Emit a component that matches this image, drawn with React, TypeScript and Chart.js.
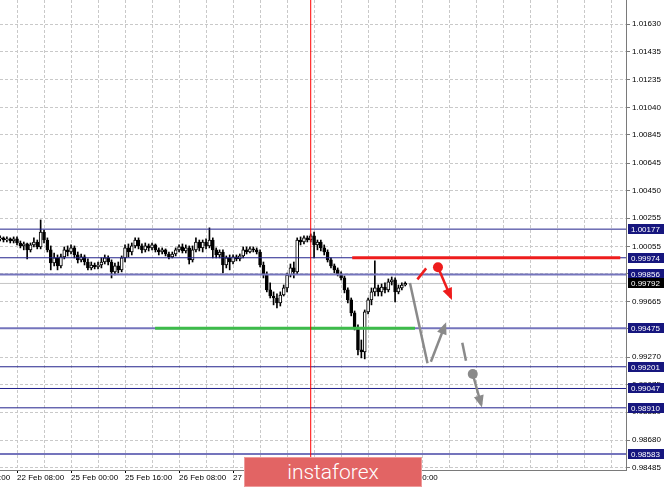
import React, { useEffect, useRef } from 'react';
import { Chart, registerables } from 'chart.js';

Chart.register(...registerables);

// Bar index = hours counted from 22 Feb 08:00 (weekend hours skipped), H1 candles
const FIRST_BAR = -5;
const FIRST_OPEN = 1.00108;

const closes = [
  1.00115, 1.00100, 1.00108, 1.00093, 1.00108,
  1.00079, 1.00058, 1.00072, 1.00030, 1.00065, 1.00086, 1.00051, 1.00157, 1.00100, 1.00030,
  0.99937, 0.99973, 0.99916, 0.99980, 1.00030, 1.00015, 1.00044, 0.99994, 0.99959, 0.99980,
  0.99944, 0.99902, 0.99923, 0.99909, 0.99923, 0.99944, 0.99973, 0.99944, 0.99874, 0.99916,
  0.99888, 0.99973, 1.00044, 1.00015, 1.00058, 1.00100, 1.00058, 1.00030, 1.00058, 1.00044,
  1.00065, 1.00030, 1.00015, 1.00030, 1.00001, 0.99980, 1.00001, 1.00030, 1.00051, 1.00022,
  1.00044, 0.99959, 1.00030, 1.00086, 1.00044, 1.00086, 1.00058, 1.00100, 1.00030, 0.99994,
  1.00015, 0.99923, 0.99973, 0.99944, 0.99980, 0.99966, 0.99987, 1.00030, 1.00015, 1.00037,
  1.00030, 1.00015, 0.99923, 0.99852, 0.99746, 0.99703, 0.99689, 0.99654, 0.99710, 0.99760,
  0.99852, 0.99902, 0.99874, 1.00100, 1.00086, 1.00115, 1.00100, 1.00129, 1.00065, 1.00086,
  1.00044, 1.00015, 0.99959, 0.99916, 0.99888, 0.99859, 0.99831, 0.99746, 0.99675, 0.99583,
  0.99477, 0.99321, 0.99307, 0.99590, 0.99675, 0.99732, 0.99760, 0.99732, 0.99767, 0.99746,
  0.99803, 0.99817, 0.99732, 0.99760, 0.99781, 0.99792,
];

const highs = [
  1.00129, 1.00122, 1.00122, 1.00115, 1.00122,
  1.00122, 1.00093, 1.00086, 1.00079, 1.00079, 1.00115, 1.00100, 1.00242, 1.00171, 1.00115,
  1.00058, 1.00008, 0.99994, 1.00001, 1.00051, 1.00058, 1.00065, 1.00058, 1.00015, 1.00001,
  0.99994, 0.99966, 0.99944, 0.99937, 0.99944, 0.99973, 0.99994, 0.99987, 0.99959, 0.99937,
  0.99944, 0.99987, 1.00065, 1.00072, 1.00079, 1.00115, 1.00115, 1.00072, 1.00079, 1.00072,
  1.00079, 1.00072, 1.00044, 1.00044, 1.00037, 1.00015, 1.00015, 1.00044, 1.00065, 1.00072,
  1.00065, 1.00058, 1.00058, 1.00115, 1.00100, 1.00100, 1.00108, 1.00186, 1.00115, 1.00044,
  1.00030, 1.00030, 0.99987, 0.99994, 0.99994, 0.99994, 1.00001, 1.00051, 1.00051, 1.00051,
  1.00051, 1.00044, 1.00030, 0.99944, 0.99874, 0.99796, 0.99732, 0.99718, 0.99732, 0.99781,
  0.99866, 0.99930, 0.99944, 1.00115, 1.00122, 1.00129, 1.00129, 1.00143, 1.00157, 1.00100,
  1.00100, 1.00065, 1.00030, 0.99973, 0.99930, 0.99902, 0.99874, 0.99845, 0.99760, 0.99689,
  0.99597, 0.99498, 0.99391, 0.99604, 0.99689, 0.99760, 0.99952, 0.99781, 0.99788, 0.99796,
  0.99824, 0.99838, 0.99831, 0.99781, 0.99796, 0.99803,
];

const lows = [
  1.00093, 1.00086, 1.00086, 1.00079, 1.00079,
  1.00065, 1.00044, 1.00030, 0.99966, 1.00015, 1.00051, 1.00037, 1.00037, 1.00079, 1.00015,
  0.99888, 0.99916, 0.99888, 0.99902, 0.99966, 0.99987, 1.00001, 0.99973, 0.99937, 0.99944,
  0.99923, 0.99888, 0.99888, 0.99895, 0.99895, 0.99902, 0.99930, 0.99923, 0.99831, 0.99852,
  0.99866, 0.99874, 0.99944, 0.99980, 0.99994, 1.00044, 1.00037, 1.00008, 1.00015, 1.00022,
  1.00030, 1.00015, 0.99994, 1.00001, 0.99987, 0.99966, 0.99973, 0.99987, 1.00015, 1.00008,
  1.00008, 0.99930, 0.99944, 1.00015, 1.00022, 1.00015, 1.00037, 1.00044, 0.99973, 0.99973,
  0.99973, 0.99866, 0.99902, 0.99888, 0.99930, 0.99952, 0.99952, 0.99973, 1.00001, 1.00008,
  1.00015, 1.00001, 0.99909, 0.99831, 0.99732, 0.99689, 0.99640, 0.99618, 0.99632, 0.99703,
  0.99732, 0.99838, 0.99831, 0.99859, 1.00065, 1.00072, 1.00086, 1.00086, 0.99973, 1.00030,
  1.00022, 0.99994, 0.99944, 0.99902, 0.99866, 0.99845, 0.99817, 0.99725, 0.99654, 0.99562,
  0.99462, 0.99285, 0.99264, 0.99257, 0.99576, 0.99640, 0.99703, 0.99703, 0.99703, 0.99725,
  0.99732, 0.99781, 0.99661, 0.99718, 0.99746, 0.99774,
];

// Axes
const X_MIN = -5.04;
const X_MAX = 180.4;
const Y_MIN = 0.98469;
const Y_MAX = 1.01802;
const xGridStep = 8;
const xLabelPositions = [-16, 0, 16, 32, 48, 64, 80, 96, 112];
const xLabels = [
  '21 Feb 16:00', '22 Feb 08:00', '25 Feb 00:00', '25 Feb 16:00', '26 Feb 08:00',
  '27 Feb 00:00', '27 Feb 16:00', '28 Feb 08:00', '1 Mar 00:00',
];
const yTicks = [
  1.0163, 1.01435, 1.01235, 1.0104, 1.00845, 1.00645, 1.0045, 1.00255, 1.00055,
  0.9986, 0.99665, 0.9947, 0.9927, 0.99075, 0.9888, 0.9868, 0.98485,
];

// Horizontal levels
const navyLevels = [1.00177, 0.99974, 0.99201, 0.99047, 0.9891];
const softLevels = [0.99856, 0.99475, 0.98583];
const currentPrice = 0.99792;
const markerBar = 87;
const redSegment = { from: 99.3, to: 178.7, price: 0.99974 };
const greenSegment = { from: 40.9, to: 117.9, price: 0.99475 };

// Forecast drawings
const grayDrop = [{ x: 116.4, y: 0.99795 }, { x: 121.6, y: 0.99226 }];
const grayRise = [{ x: 122.6, y: 0.99237 }, { x: 126.8, y: 0.99497 }];
const redDash = [{ x: 118.6, y: 0.99821 }, { x: 121.2, y: 0.99899 }];
const redArrow = [{ x: 124.7, y: 0.99907 }, { x: 128.5, y: 0.99694 }];
const grayDash = [{ x: 131.9, y: 0.99372 }, { x: 133.0, y: 0.99244 }];
const grayArrow = [{ x: 135.0, y: 0.9915 }, { x: 137.5, y: 0.98933 }];

const FONT = '"Liberation Sans", Arial, sans-serif';
const GRAY = '#8a8a8a';
const RED = '#ee1c1c';

function buildCandles() {
  return closes.map((c, i) => {
    const o = i === 0 ? FIRST_OPEN : closes[i - 1];
    return { x: FIRST_BAR + i, o, c, h: highs[i], l: lows[i] };
  });
}

function labelFor(v: number) {
  const i = xLabelPositions.indexOf(v);
  return i >= 0 ? xLabels[i] : '';
}

const overlayPlugin = {
  id: 'overlay',
  afterDatasetsDraw(chart: any) {
    const ctx = chart.ctx;
    chart.data.datasets.forEach((ds: any, i: number) => {
      if (!ds.arrowHead) return;
      const pts = chart.getDatasetMeta(i).data;
      const a = pts[pts.length - 2];
      const b = pts[pts.length - 1];
      const ang = Math.atan2(b.y - a.y, b.x - a.x);
      const dx = Math.cos(ang), dy = Math.sin(ang);
      const tipX = b.x + dx * 3, tipY = b.y + dy * 3;
      const len = 12, half = 5;
      ctx.save();
      ctx.fillStyle = ds.borderColor;
      ctx.beginPath();
      ctx.moveTo(tipX, tipY);
      ctx.lineTo(tipX - dx * len - dy * half, tipY - dy * len + dx * half);
      ctx.lineTo(tipX - dx * len + dy * half, tipY - dy * len - dx * half);
      ctx.closePath();
      ctx.fill();
      ctx.restore();
    });
  },
  afterDraw(chart: any) {
    const ctx = chart.ctx;
    const ys = chart.scales.y;
    const xs = chart.scales.x;
    const area = chart.chartArea;
    ctx.save();
    // cut-off label left of the visible range
    ctx.font = '8px ' + FONT;
    ctx.fillStyle = '#000';
    ctx.textBaseline = 'top';
    ctx.textAlign = 'left';
    xLabelPositions.forEach((p, i) => {
      if (p < X_MIN) ctx.fillText(xLabels[i], xs.getPixelForValue(p), area.bottom + 4);
    });
    // level price boxes
    const box = (v: number, bg: string) => {
      const py = Math.round(ys.getPixelForValue(v));
      ctx.fillStyle = bg;
      ctx.fillRect(area.right + 2, py - 5, 36, 10);
      ctx.fillStyle = '#fff';
      ctx.textBaseline = 'middle';
      ctx.fillText(v.toFixed(5), area.right + 5, py + 0.5);
    };
    [...navyLevels, ...softLevels].forEach((v) => box(v, '#16167e'));
    box(currentPrice, '#000');
    ctx.restore();
  },
};

export default function App() {
  const ref = useRef<HTMLCanvasElement>(null);

  useEffect(() => {
    const candles = buildCandles();
    const bodyData = candles.map((b) => ({ x: b.x, y: [Math.min(b.o, b.c), Math.max(b.o, b.c)] }));
    const wickData = candles.map((b) => ({ x: b.x, y: [b.l, b.h] }));
    const bodyFill = candles.map((b) => (b.c >= b.o ? '#ffffff' : '#000000'));

    const hline = (price: number, from: number, to: number, color: string, width: number, order: number) => ({
      type: 'line',
      data: [{ x: from, y: price }, { x: to, y: price }],
      borderColor: color,
      borderWidth: width,
      pointRadius: 0,
      fill: false,
      order,
    });
    const path = (pts: any[], color: string, width: number, extra: any = {}) => ({
      type: 'line',
      data: pts,
      borderColor: color,
      borderWidth: width,
      pointRadius: 0,
      fill: false,
      order: 0,
      ...extra,
    });

    const datasets: any[] = [
      hline(currentPrice, -20, 200, '#c4c4c4', 1, 9),
      ...navyLevels.map((v) => hline(v, -20, 200, '#22228c', 1, 2)),
      ...softLevels.map((v) => hline(v, -20, 200, '#7474bc', 2, 2)),
      {
        type: 'line',
        data: [{ x: markerBar, y: Y_MIN - 0.01 }, { x: markerBar, y: Y_MAX + 0.01 }],
        borderColor: '#ff0000',
        borderWidth: 1,
        pointRadius: 0,
        order: 1,
      },
      hline(redSegment.price, redSegment.from, redSegment.to, RED, 3, 1),
      hline(greenSegment.price, greenSegment.from, greenSegment.to, '#3dbb4a', 3, 1),
      {
        type: 'bar',
        data: bodyData,
        backgroundColor: bodyFill,
        borderColor: '#000',
        borderWidth: 1,
        borderSkipped: false,
        barThickness: 3,
        grouped: false,
        order: 5,
      },
      {
        type: 'bar',
        data: wickData,
        backgroundColor: '#000',
        borderWidth: 0,
        barThickness: 1,
        grouped: false,
        order: 6,
      },
      path(grayDrop, GRAY, 2.5),
      path(grayRise, GRAY, 2.5, { arrowHead: true }),
      path(redDash, RED, 2.5),
      path(redArrow, RED, 2.5, { arrowHead: true, pointRadius: [5, 0], pointBackgroundColor: RED, pointBorderWidth: 0 }),
      path(grayDash, GRAY, 2.5),
      path(grayArrow, GRAY, 2.5, { arrowHead: true, pointRadius: [5, 0], pointBackgroundColor: GRAY, pointBorderWidth: 0 }),
    ];

    const gridPositions: number[] = [];
    for (let v = 0; v <= X_MAX; v += xGridStep) gridPositions.push(v);

    const chart = new Chart(ref.current as HTMLCanvasElement, {
      type: 'bar',
      data: { datasets },
      plugins: [overlayPlugin],
      options: {
        animation: false,
        responsive: false,
        devicePixelRatio: 1,
        layout: { padding: 0, autoPadding: false },
        plugins: { legend: { display: false }, tooltip: { enabled: false } },
        scales: {
          x: {
            type: 'linear',
            position: 'bottom',
            min: X_MIN,
            max: X_MAX,
            offset: false,
            afterBuildTicks: (sc: any) => {
              sc.ticks = gridPositions.map((v) => ({ value: v }));
            },
            afterFit: (sc: any) => {
              sc.height = 18;
              sc.paddingLeft = 0;
              sc.paddingRight = 0;
            },
            ticks: {
              autoSkip: false,
              maxRotation: 0,
              minRotation: 0,
              align: 'start',
              padding: 0,
              color: '#000',
              font: { family: FONT, size: 8 },
              callback: (v: any) => labelFor(Number(v)),
            },
            grid: {
              color: '#c9c9c9',
              offset: false,
              tickLength: 3,
              tickColor: (c: any) => (c.tick && labelFor(c.tick.value) ? '#000' : 'rgba(0,0,0,0)'),
            },
            border: { color: '#7a7a7a', dash: [3, 2] },
          },
          y: {
            type: 'linear',
            position: 'right',
            min: Y_MIN,
            max: Y_MAX,
            afterBuildTicks: (sc: any) => {
              sc.ticks = [...yTicks].reverse().map((v) => ({ value: v }));
            },
            afterFit: (sc: any) => {
              sc.width = 39;
              sc.paddingTop = 0;
              sc.paddingBottom = 0;
            },
            ticks: {
              padding: 2,
              color: '#000',
              font: { family: FONT, size: 8 },
              callback: (v: any) => Number(v).toFixed(5),
            },
            grid: { color: '#c9c9c9', tickLength: 4, tickColor: '#7a7a7a' },
            border: { color: '#7a7a7a', dash: [3, 2] },
          },
        },
      } as any,
    });
    return () => chart.destroy();
  }, []);

  return (
    <div style={{ position: 'absolute', left: 0, top: 0, width: 665, height: 488, background: '#fff' }}>
      <canvas ref={ref} width={665} height={488} style={{ display: 'block', width: 665, height: 488 }} />
      <div
        style={{
          position: 'absolute',
          left: 244,
          top: 457,
          width: 178,
          height: 30,
          boxSizing: 'border-box',
          background: '#e26464',
          border: '1px solid #ee9a9a',
          color: '#fff',
          fontFamily: 'Roboto, "Open Sans", sans-serif',
          fontSize: 21,
          fontWeight: 300,
          display: 'flex',
          alignItems: 'center',
          justifyContent: 'center',
        }}
      >
        instaforex
      </div>
    </div>
  );
}
